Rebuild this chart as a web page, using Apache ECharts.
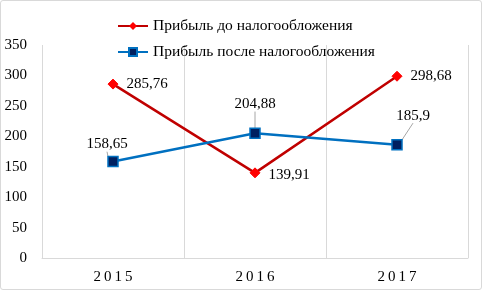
<!DOCTYPE html>
<html>
<head>
<meta charset="utf-8">
<script src="https://cdn.jsdelivr.net/npm/echarts@6/dist/echarts.min.js"></script>
<style>
  html, body { margin: 0; padding: 0; background: #fff; }
  #chart { width: 480px; height: 288px; border: 1px solid #d9d9d9; border-radius: 3px; }
</style>
</head>
<body>
<div id="chart"></div>
<script>
// ── Данные ───────────────────────────────────────────────
var years = ['2015', '2016', '2017'];
var beforeTax = [285.76, 139.91, 298.68];
var afterTax = [158.65, 204.88, 185.9];
var yTicks = [0, 350, 50]; // min, max, шаг

var FONT = '"Liberation Serif", "Times New Roman", serif';

function fmt(v) {
  return String(v).replace('.', ',');
}

var chart = echarts.init(document.getElementById('chart'));

chart.setOption({
  animation: false,
  textStyle: { fontFamily: FONT },
  legend: {
    orient: 'vertical',
    left: 111,
    top: 12,
    itemWidth: 30,
    itemHeight: 10,
    itemGap: 10,
    textStyle: { fontFamily: FONT, fontSize: 15.5, color: '#000' },
    data: ['Прибыль до налогообложения', 'Прибыль после налогообложения']
  },
  grid: { left: 41, right: 13, top: 44, bottom: 31 },
  xAxis: {
    type: 'category',
    data: years,
    boundaryGap: true,
    axisLine: { lineStyle: { color: '#d9d9d9' } },
    axisTick: { show: false },
    axisLabel: {
      fontFamily: FONT,
      fontSize: 15,
      color: '#000',
      margin: 12,
      formatter: function (v) { return v.split('').join('\u2009'); }
    },
    splitLine: { show: true, lineStyle: { color: '#d9d9d9' } }
  },
  yAxis: {
    type: 'value',
    min: yTicks[0],
    max: yTicks[1],
    interval: yTicks[2],
    axisLine: { show: false },
    axisTick: { show: false },
    splitLine: { show: false },
    axisLabel: { fontFamily: FONT, fontSize: 15, color: '#000', margin: 15 }
  },
  series: [{
    name: 'Прибыль до налогообложения',
    type: 'line',
    data: beforeTax,
    symbol: 'diamond',
    symbolSize: 10,
    lineStyle: { color: '#c00000', width: 2.5 },
    itemStyle: { color: '#ff0000', borderColor: '#ff0000' },
    label: {
      show: true,
      position: 'right',
      distance: 8,
      fontFamily: FONT,
      fontSize: 15,
      color: '#000',
      formatter: function (p) { return fmt(p.value); }
    },
    labelLayout: function (p) {
      if (p.dataIndex === 1) return { dy: 2 };
      return {};
    }
  }, {
    name: 'Прибыль после налогообложения',
    type: 'line',
    data: afterTax,
    symbol: 'rect',
    symbolSize: 10,
    lineStyle: { color: '#0070c0', width: 2.5 },
    itemStyle: { color: '#002060', borderColor: '#0070c0', borderWidth: 1.5 },
    label: {
      show: true,
      position: 'top',
      distance: 10,
      fontFamily: FONT,
      fontSize: 15,
      color: '#000',
      formatter: function (p) { return fmt(p.value); }
    },
    labelLine: { show: true, lineStyle: { color: '#a6a6a6', width: 1 } },
    labelLayout: function (p) {
      if (p.dataIndex === 0) return { dx: -6, dy: 6 };
      if (p.dataIndex === 1) return { dy: -6 };
      return { dx: 16, dy: -6 };
    }
  }]
});
</script>
</body>
</html>
